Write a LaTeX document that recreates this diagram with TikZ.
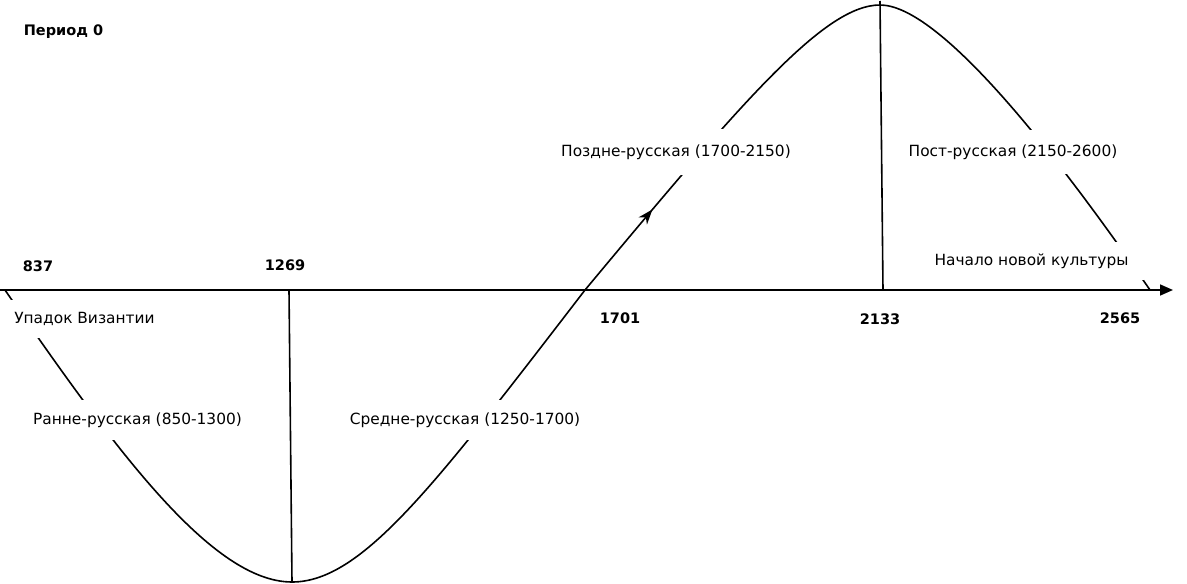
\documentclass[tikz,border=0pt]{standalone}
\usepackage{fontspec}
\setmainfont{DejaVu Sans}
\usepackage{tikz}
\usetikzlibrary{arrows.meta}
\usetikzlibrary{decorations.markings}
\tikzset{>=Stealth}
\tikzstyle{line} = [draw, line width=1.6pt]

\begin{document}
\begin{tikzpicture}[x=1pt, y=-1pt,
            font=\fontsize{15.4}{18}\selectfont,
            era/.style={fill=white, inner xsep=6pt, minimum height=40pt},
            year/.style={font=\fontsize{14.5}{17}\selectfont\bfseries, inner sep=0pt}]
            \useasboundingbox (0,0) rectangle (1187,584);
            %% points of the wave
            \coordinate (w0) at (5,290);
            \coordinate (w1) at (292,582);
            \coordinate (w2) at (585,290);
            \coordinate (w3) at (880,5);
            \coordinate (w4) at (1150,290);
            \coordinate (v1) at (289,290);
            \coordinate (v3a) at (880,1);
            \coordinate (v3b) at (883,290);
            %% axis
            \coordinate (ax0) at (0,290);
            \coordinate (ax1) at (1173,290);
            \path [line, -{Triangle[length=13pt,width=11pt]}] (ax0) -- (ax1);
            %% wave
            \path [line] (w0) .. controls (115,449.5) and (212,582) .. (w1)
                .. controls (362,582) and (435,485) .. (w2);
            \path [line, postaction={decorate},
                decoration={markings, mark=at position 105pt with {\arrow{Stealth[length=15pt,width=11pt]}}}]
                (w2) .. controls (745,98) and (825,5) .. (w3)
                .. controls (935,5) and (1040,130.5) .. (w4);
            %% borders of the periods
            \path [line] (v1) -- (w1);
            \path [line] (v3a) -- (v3b);
            %% years
            \node[year] (p0) at (63.5,32) {Период 0};
            \node[year] (y837) at (38,266) {837};
            \node[year] (y1269) at (285,265) {1269};
            \node[year] (y1701) at (620,318) {1701};
            \node[year] (y2133) at (880,319) {2133};
            \node[year] (y2565) at (1120,318) {2565};
            %% epochs
            \node[era, minimum height=38pt] (fall) at (84.5,319) {Упадок Византии};
            \node[era] (early) at (137.5,420) {Ранне-русская (850-1300)};
            \node[era] (middle) at (465,420) {Средне-русская (1250-1700)};
            \node[era, minimum height=46pt] (late) at (676,152) {Поздне-русская (1700-2150)};
            \node[era, minimum height=44pt] (post) at (1013,152) {Пост-русская (2150-2600)};
            \node[era, minimum height=38pt, inner xsep=16pt] (new) at (1031.5,261) {Начало новой культуры};
\end{tikzpicture}
\end{document}
